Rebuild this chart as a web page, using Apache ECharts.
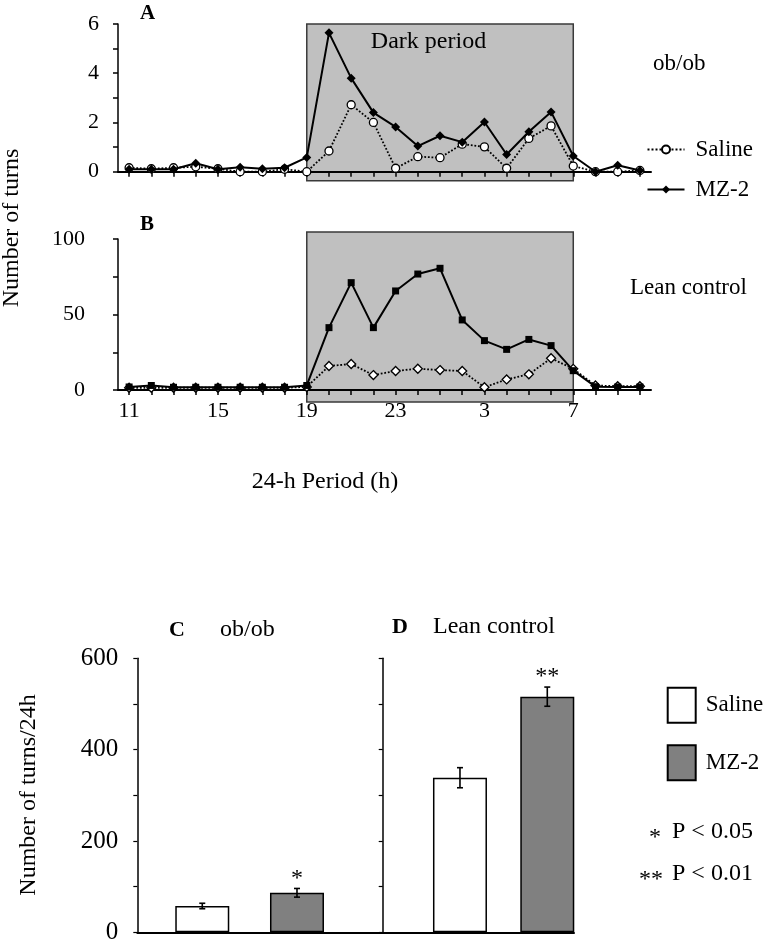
<!DOCTYPE html>
<html><head><meta charset="utf-8">
<script src="https://cdn.jsdelivr.net/npm/echarts@6/dist/echarts.min.js"></script>
<style>
html,body{margin:0;padding:0;background:#fff;}
#c1,#c2{position:absolute;left:0;top:0;width:766px;height:948px;}
</style>
</head><body>
<div id="c1"></div><div id="c2"></div>
<script>
// ---------- DATA ----------
const hours = ['11','12','13','14','15','16','17','18','19','20','21','22','23','0','1','2','3','4','5','6','7','8','9','10'];
const obSaline  = [0.16,0.12,0.16,0.2,0.12,0,0,0.1,0,0.84,2.72,2.0,0.14,0.61,0.57,1.12,1.01,0.14,1.35,1.86,0.23,0,0,0.05];
const obMZ2     = [0.1,0.1,0.1,0.34,0.1,0.18,0.12,0.16,0.58,5.64,3.8,2.4,1.82,1.04,1.46,1.2,2.02,0.7,1.62,2.43,0.64,0,0.26,0.05];
const leanSaline= [1.5,1.5,1.5,1.5,1.5,1.5,1.5,1.5,2,15.9,17.2,9.9,12.6,14.1,13.2,12.6,1.8,7,10.4,21,14,3,2.5,2.5];
const leanMZ2   = [2,3,1.8,1.8,1.8,1.8,1.8,1.8,3,41.3,71.1,41.3,65.6,76.8,80.6,46.4,32.7,26.9,33.5,29.4,12.8,2.2,2,2];
const darkStart = '19', darkEnd = '7';
const yLabelsA = [0,2,4,6];
const yLabelsB = [0,50,100];

const groups = ['ob/ob','Lean control'];
const salineTotals = [57.6, 338.5];
const salineSE     = [6, 22];
const mz2Totals    = [86.5, 516];
const mz2SE        = [9.5, 21];
const significance = ['*','**'];
const yLabelsC = [0,200,400,600];

// ---------- STYLE ----------
const FONT = '"Liberation Serif","Times New Roman",serif';
const BLACK = '#000';

function catAxis(gridIndex, showLabels){
  return {type:'category', gridIndex, data:hours, boundaryGap:true,
    axisLine:{show:true, onZero:false, lineStyle:{color:BLACK, width:2}},
    axisTick:{show:true, alignWithLabel:true, interval:0, length:5, inside:false, lineStyle:{color:BLACK, width:1.5}},
    axisLabel:{show:showLabels, interval:3, color:BLACK, fontFamily:FONT, fontSize:22, margin:10},
    splitLine:{show:false}};
}
function valAxis(gridIndex, max, interval, labels, margin){
  return {type:'value', gridIndex, min:0, max, interval,
    axisLine:{show:true, onZero:false, lineStyle:{color:BLACK, width:1.5}},
    axisTick:{show:true, length:5, inside:false, lineStyle:{color:BLACK, width:1.5}},
    axisLabel:{show:true, color:BLACK, fontFamily:FONT, fontSize:22, margin,
      formatter: v => labels.indexOf(v) >= 0 ? String(v) : ''},
    splitLine:{show:false}};
}
function txt(text, x, y, size, opts){
  opts = opts || {};
  return {type:'text', x, y, rotation: opts.rotation || 0, z:10,
    style:{text, fill:BLACK, font:(opts.bold?'bold ':'') + size + 'px ' + FONT,
      align: opts.align || 'left', verticalAlign:'middle'}};
}

// ---------- CHART 1 (A, B) ----------
const c1 = echarts.init(document.getElementById('c1'), null, {renderer:'canvas'});
const gridA = {left:118, top:24, width:533, height:147.7};
const gridB = {left:118, top:239, width:533, height:151};
c1.setOption({
  animation:false,
  backgroundColor:'#fff',
  grid:[gridA, gridB],
  xAxis:[catAxis(0,false), catAxis(1,true)],
  yAxis:[valAxis(0,6,1,yLabelsA,19), valAxis(1,100,25,yLabelsB,33)],
  legend:{data:['Saline','MZ-2'], orient:'vertical', left:646.5, top:138, padding:0, itemWidth:37, itemHeight:10, itemGap:17,
    textStyle:{fontFamily:FONT, fontSize:23, color:BLACK, padding:[0,0,0,6]}},
  series:[
    {type:'line', name:'Saline', xAxisIndex:0, yAxisIndex:0, data:obSaline, symbol:'circle', symbolSize:8, z:3,
      lineStyle:{color:BLACK, width:1.8, type:'dotted'}, itemStyle:{color:'#fff', borderColor:BLACK, borderWidth:1.3}},
    {type:'line', name:'MZ-2', xAxisIndex:0, yAxisIndex:0, data:obMZ2, symbol:'diamond', symbolSize:9, z:4,
      lineStyle:{color:BLACK, width:2}, itemStyle:{color:BLACK}},
    {type:'line', name:'Saline', xAxisIndex:1, yAxisIndex:1, data:leanSaline, symbol:'diamond', symbolSize:9, z:3,
      lineStyle:{color:BLACK, width:1.8, type:'dotted'}, itemStyle:{color:'#fff', borderColor:BLACK, borderWidth:1.3}},
    {type:'line', name:'MZ-2', xAxisIndex:1, yAxisIndex:1, data:leanMZ2, symbol:'rect', symbolSize:7, z:4,
      lineStyle:{color:BLACK, width:2}, itemStyle:{color:BLACK}}
  ]
});
function darkRect(gi, topExtra, botExtra){
  const tl = c1.convertToPixel({xAxisIndex:gi, yAxisIndex:gi}, [darkStart, gi===0?6:100]);
  const br = c1.convertToPixel({xAxisIndex:gi, yAxisIndex:gi}, [darkEnd, 0]);
  return {type:'rect', z:-1, shape:{x:tl[0], y:tl[1]-topExtra, width:br[0]-tl[0], height:(br[1]+botExtra)-(tl[1]-topExtra)},
    style:{fill:'#c0c0c0', stroke:'#3a3a3a', lineWidth:1.5}};
}
c1.setOption({graphic:[
  darkRect(0,0,9), darkRect(1,7,12),
  txt('A',140,13.5,21,{bold:true}),
  txt('B',140,225,21,{bold:true}),
  txt('Dark period',428.5,42,24,{align:'center'}),
  txt('ob/ob',653,63.5,23),
  txt('Lean control',630,288,23),
  txt('Number of turns',12,228,24,{align:'center', rotation:Math.PI/2}),
  txt('24-h Period (h)',325,482,24,{align:'center'})
]});

// ---------- CHART 2 (C, D) ----------
const c2 = echarts.init(document.getElementById('c2'), null, {renderer:'canvas'});
function barXAxis(gridIndex, min, max){
  return {type:'value', gridIndex, min, max,
    axisLine:{show:true, onZero:false, lineStyle:{color:BLACK, width:2}},
    axisTick:{show:false}, axisLabel:{show:false}, splitLine:{show:false}};
}
function barYAxis(gridIndex, showLabels){
  return {type:'value', gridIndex, min:0, max:600, interval:100,
    axisLine:{show:true, onZero:false, lineStyle:{color:BLACK, width:1.5}},
    axisTick:{show:true, length:4, inside:false, lineStyle:{color:BLACK, width:1.2}},
    axisLabel:{show:showLabels, color:BLACK, fontFamily:FONT, fontSize:25, margin:19,
      formatter: v => yLabelsC.indexOf(v) >= 0 ? String(v) : ''},
    splitLine:{show:false}};
}
const salineStyle = {color:'#fff', borderColor:BLACK, borderWidth:1.5};
const mzStyle = {color:'#808080', borderColor:BLACK, borderWidth:1.5};
function errSeries(gi){
  const data = [[0, salineTotals[gi], salineSE[gi]], [1, mz2Totals[gi], mz2SE[gi]]];
  return {type:'custom', name:'err'+gi, xAxisIndex:gi, yAxisIndex:gi, z:5, data,
    renderItem:(params, api) => {
      const x = api.value(0), v = api.value(1), se = api.value(2);
      const t = api.coord([x, v+se]), b = api.coord([x, v-se]);
      const st = {stroke:BLACK, lineWidth:1.6};
      const ch = [
        {type:'line', shape:{x1:t[0],y1:t[1],x2:b[0],y2:b[1]}, style:st},
        {type:'line', shape:{x1:t[0]-3,y1:t[1],x2:t[0]+3,y2:t[1]}, style:st},
        {type:'line', shape:{x1:b[0]-3,y1:b[1],x2:b[0]+3,y2:b[1]}, style:st}
      ];
      if (params.dataIndex === 1) {
        ch.push({type:'text', x:t[0], y:t[1]-10, style:{text:significance[gi], fill:BLACK,
          font:'24px '+FONT, align:'center', verticalAlign:'middle'}});
      }
      return {type:'group', children:ch};
    }};
}
c2.setOption({
  animation:false,
  grid:[{left:137.3, top:658.3, width:245.4, height:274}, {left:382.7, top:658.3, width:191.3, height:274}],
  xAxis:[barXAxis(0,-0.686,1.905), barXAxis(1,-0.885,1.306)],
  yAxis:[barYAxis(0,true), barYAxis(1,false)],
  legend:{data:['Saline','MZ-2'], orient:'vertical', left:666.7, top:686.7, padding:0, itemWidth:28, itemHeight:35, itemGap:20.6,
    icon:'rect', textStyle:{fontFamily:FONT, fontSize:23, color:BLACK, padding:[0,0,0,5]}},
  series:[
    {type:'bar', name:'Saline', xAxisIndex:0, yAxisIndex:0, barWidth:54, barGap:'-100%', data:[[0, salineTotals[0]]], itemStyle:salineStyle},
    {type:'bar', name:'MZ-2', xAxisIndex:0, yAxisIndex:0, barWidth:54, barGap:'-100%', data:[[1, mz2Totals[0]]], itemStyle:mzStyle},
    {type:'bar', name:'Saline', xAxisIndex:1, yAxisIndex:1, barWidth:54, barGap:'-100%', data:[[0, salineTotals[1]]], itemStyle:salineStyle},
    {type:'bar', name:'MZ-2', xAxisIndex:1, yAxisIndex:1, barWidth:54, barGap:'-100%', data:[[1, mz2Totals[1]]], itemStyle:mzStyle},
    errSeries(0), errSeries(1)
  ],
  graphic:[
    txt('C',169,630,22,{bold:true}),
    txt(groups[0],220,630,24),
    txt('D',392,627,22,{bold:true}),
    txt(groups[1],433,627,24),
    txt('Number of turns/24h',28.3,795,24,{align:'center', rotation:Math.PI/2}),
    txt('*',661,838,24,{align:'right'}),
    txt('P < 0.05',672,832,24),
    txt('**',663,880,24,{align:'right'}),
    txt('P < 0.01',672,874,24)
  ]
});
</script>
</body></html>
